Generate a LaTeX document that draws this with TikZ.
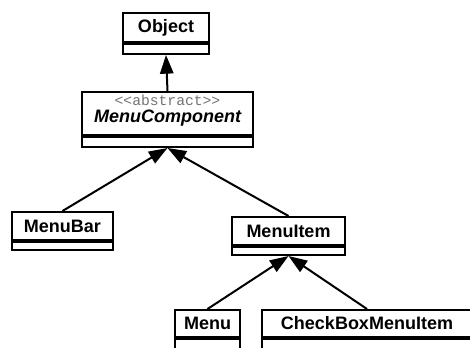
\documentclass[tikz,border=0pt]{standalone}
\usepackage{fontspec}
\newfontfamily\helv{Liberation Sans}
\newfontfamily\cour{Liberation Mono}
\usetikzlibrary{arrows.meta}
\begin{document}
\begin{tikzpicture}[x=0.75pt,y=-0.75pt,
  namebox/.style={draw, line width=1.5pt, inner sep=0pt, fill=white,
    font=\helv\bfseries\fontsize{13.5}{16}\selectfont},
  compbox/.style={draw, line width=1.5pt, inner sep=0pt, anchor=north},
  stereo/.style={inner sep=0pt, text=black!55, font=\cour\fontsize{11}{12}\selectfont},
  abstr/.style={inner sep=0pt, font=\helv\bfseries\itshape\fontsize{13.5}{16}\selectfont},
  arr/.style={line width=1.5pt, -{Triangle[length=14pt,width=10pt]}}]
\useasboundingbox (0,0) rectangle (470,347);

% Object
\node[namebox, minimum width=64.5pt, minimum height=21.75pt] (obj) at (166,27.5) {Object};
\node[compbox, minimum width=64.5pt, minimum height=7.5pt] (objc) at (obj.south) {};

% MenuComponent
\node[namebox, minimum width=128.25pt, minimum height=32.25pt] (mc) at (167.5,113.5) {};
\node[compbox, minimum width=128.25pt, minimum height=7.5pt] (mcc) at (mc.south) {};
\node[stereo] (mcst) at (167.5,100) {<<abstract>>};
\node[abstr] (mcname) at (167.5,118.5) {MenuComponent};

% MenuBar
\node[namebox, minimum width=75.75pt, minimum height=21pt] (mb) at (62.5,226) {MenuBar};
\node[compbox, minimum width=75.75pt, minimum height=6pt] (mbc) at (mb.south) {};

% MenuItem
\node[namebox, minimum width=84.75pt, minimum height=21pt] (mi) at (288.5,231) {MenuItem};
\node[compbox, minimum width=84.75pt, minimum height=6pt] (mic) at (mi.south) {};

% Menu
\node[namebox, minimum width=48.75pt, minimum height=20.25pt] (mn) at (207.5,323.5) {Menu};
\node[compbox, minimum width=48.75pt, minimum height=15pt] (mnc) at (mn.south) {};

% CheckBoxMenuItem
\node[namebox, minimum width=157.5pt, minimum height=20.25pt] (cb) at (367,323.5) {CheckBoxMenuItem};
\node[compbox, minimum width=157.5pt, minimum height=15pt] (cbc) at (cb.south) {};

% Generalisations
\draw[arr] (mc.north) -- (objc.south);
\draw[arr] (mb.north) -- (mcc.south);
\draw[arr] (mi.north) -- (mcc.south);
\draw[arr] (mn.north) -- (mic.south);
\draw[arr] (cb.north) -- (mic.south);
\end{tikzpicture}
\end{document}
